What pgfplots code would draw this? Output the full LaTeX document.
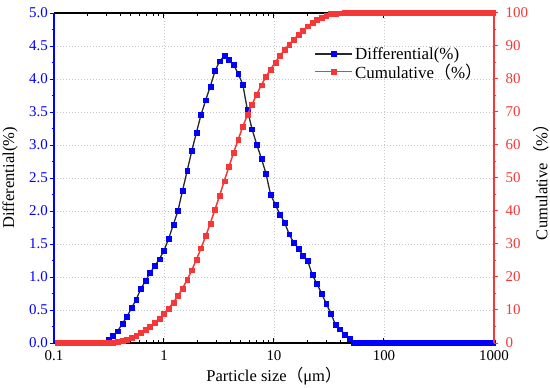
\documentclass[border=0pt]{standalone}
\usepackage{fontspec}
\setmainfont{Liberation Serif}
\newfontfamily\cjk{Noto Sans CJK SC}
\usepackage{pgfplots}
\usepackage{pgfplotstable}
\pgfplotsset{compat=1.18}
\definecolor{cblue}{RGB}{0,0,255}
\definecolor{cred}{RGB}{245,55,55}
\definecolor{cline}{RGB}{40,40,40}
\pgfplotsset{
 diffstyle/.style={draw=cline, line width=1.3bp, mark=square*, mark size=2.45bp, mark options={draw=cblue, fill=cblue, line width=0.3bp, solid}},
 cumstyle/.style={draw=cred, line width=1.5bp, mark=square*, mark size=2.45bp, mark options={draw=cred, fill=cred, line width=0.3bp, solid}},
}
\pgfplotstableread{
x diff cum
0.1074 0 0
0.1183 0 0
0.1304 0 0
0.1437 0 0
0.1583 0 0
0.1745 0 0
0.1922 0 0
0.2118 0 0
0.2334 0 0
0.2571 0 0
0.2833 0 0
0.3122 0.05 0.05
0.3440 0.11 0.16
0.3790 0.18 0.34
0.4176 0.29 0.63
0.4602 0.40 1.03
0.5070 0.53 1.56
0.5587 0.66 2.22
0.6156 0.82 3.04
0.6783 0.94 3.98
0.7474 1.06 5.04
0.8235 1.17 6.21
0.9074 1.27 7.48
1.0000 1.40 8.88
1.1018 1.58 10.46
1.2140 1.79 12.25
1.3381 2.00 14.25
1.4743 2.31 16.56
1.6245 2.61 19.17
1.7900 2.91 22.08
1.9723 3.19 25.27
2.1731 3.46 28.73
2.3945 3.68 32.41
2.6384 3.89 36.30
2.9071 4.12 40.42
3.2032 4.27 44.69
3.5294 4.35 49.04
3.8889 4.29 53.33
4.2850 4.22 57.55
4.7214 4.08 61.63
5.2023 3.92 65.55
5.7321 3.53 69.08
6.3161 3.24 72.32
6.9594 3.01 75.33
7.6682 2.80 78.13
8.4492 2.57 80.70
9.3098 2.25 82.95
10.258 2.10 85.05
11.303 1.95 87.00
12.454 1.83 88.83
13.723 1.65 90.48
15.120 1.52 92.00
16.660 1.43 93.43
18.357 1.33 94.76
20.227 1.25 96.01
22.287 1.03 97.04
24.557 0.90 97.94
27.058 0.75 98.69
29.814 0.60 99.29
32.851 0.45 99.74
36.197 0.28 99.88
39.883 0.21 99.95
43.945 0.13 99.98
48.421 0.06 100
53.353 0 100
58.787 0 100
64.774 0 100
71.371 0 100
78.640 0 100
86.650 0 100
95.475 0 100
105.20 0 100
115.91 0 100
127.72 0 100
140.73 0 100
155.06 0 100
170.85 0 100
188.26 0 100
207.43 0 100
228.56 0 100
251.84 0 100
277.49 0 100
305.75 0 100
336.89 0 100
371.20 0 100
409.01 0 100
450.67 0 100
496.57 0 100
547.14 0 100
602.87 0 100
664.27 0 100
731.92 0 100
806.47 0 100
888.60 0 100
979.10 0 100
}\psd
\begin{document}
\begin{tikzpicture}
\path[use as bounding box] (-54bp,-45bp) rectangle (496bp,343bp);
\begin{axis}[
 at={(0,0)}, anchor=south west, scale only axis, width=440bp, height=330bp,
 xmode=log, xmin=0.1, xmax=1000, ymin=0, ymax=5,
 axis x line*=box, axis y line*=left,
 x axis line style={black, line width=1.3bp}, y axis line style={cblue, line width=1.5bp},
 xtick={0.1,1,10,100,1000}, xticklabels={0.1,1,10,100,1000}, minor xtick={},
 ytick={0,0.5,1,1.5,2,2.5,3,3.5,4,4.5,5}, minor y tick num=1,
 xtick align=inside, ytick align=outside,
 major tick length=4.5bp, minor tick length=2.5bp,
 ytick style={cblue, line width=1bp}, xtick style={black, line width=1bp},
 yticklabel style={cblue, inner sep=1.5bp, /pgf/number format/fixed, /pgf/number format/fixed zerofill, /pgf/number format/precision=1},
 xticklabel style={yshift=-6.5bp, inner sep=0.5bp},
 tick label style={font=\fontsize{15}{17}\selectfont},
 /pgf/number format/assume math mode=true,
 xmajorgrids, ymajorgrids, major grid style={dash pattern=on 1bp off 2bp, black!22, line width=0.7bp},
 xlabel={Particle size{\cjk （}μm{\cjk ）}},
 ylabel={Differential(\%)},
 label style={font=\fontsize{16.6}{18}\selectfont},
 xlabel style={at={(axis description cs:0.5,-0.1)}, anchor=center},
 ylabel style={at={(axis description cs:-0.1,0.5)}, anchor=center},
 clip mode=individual,
]
\addplot[diffstyle] table[x=x, y=diff] {\psd};
\end{axis}
\begin{axis}[
 at={(0,0)}, anchor=south west, scale only axis, width=440bp, height=330bp,
 xmode=log, xmin=0.1, xmax=1000, ymin=0, ymax=100,
 axis x line=none, axis y line*=right,
 y axis line style={cred, line width=1.5bp},
 ytick={0,10,20,30,40,50,60,70,80,90,100}, minor y tick num=1,
 ytick align=outside,
 major tick length=4.5bp, minor tick length=2.5bp,
 ytick style={cred, line width=1bp},
 yticklabel style={cred, inner sep=0.5bp, xshift=6.5bp},
 tick label style={font=\fontsize{15}{17}\selectfont},
 /pgf/number format/assume math mode=true,
 ylabel={Cumulative{\cjk （}\%{\cjk ）}},
 label style={font=\fontsize{16.6}{18}\selectfont},
 ylabel style={at={(axis description cs:1.107,0.5)}, anchor=center},
 clip mode=individual,
 legend style={draw=none, fill=none, at={(axis description cs:0.585,0.847)}, anchor=west, font=\fontsize{17}{19}\selectfont, row sep=-1bp},
 legend cell align=left,
 legend image code/.code={\draw[mark repeat=2,mark phase=2,#1] plot coordinates {(0bp,0bp) (18.5bp,0bp) (37bp,0bp)};},
]
\addlegendimage{diffstyle}
\addlegendentry{Differential(\%)}
\addplot[cumstyle] table[x=x, y=cum] {\psd};
\addlegendentry{Cumulative{\cjk （}\%{\cjk ）}}
\end{axis}
\end{tikzpicture}
\end{document}
